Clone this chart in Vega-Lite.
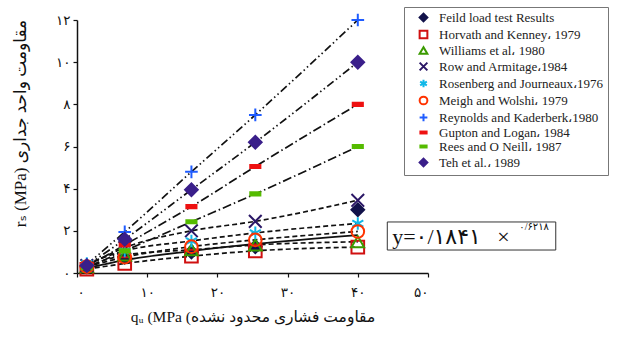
{
  "$schema": "https://vega.github.io/schema/vega-lite/v6.json",
  "width": 351,
  "height": 253,
  "autosize": {"type": "none"},
  "padding": {"left": 77, "top": 20, "right": 191, "bottom": 67},
  "config": {
    "view": {"stroke": null},
    "font": "Liberation Serif",
    "axis": {
      "grid": false,
      "domainColor": "#111",
      "domainWidth": 1.5,
      "tickColor": "#111",
      "tickWidth": 1.2,
      "tickSize": 4,
      "labelColor": "#111",
      "labelFont": "DejaVu Sans",
      "labelFontSize": 13.5,
      "titleColor": "#111",
      "titleFontWeight": "normal"
    },
    "legend": {
      "orient": "none",
      "legendX": 327,
      "legendY": -13,
      "labelFont": "Liberation Serif",
      "labelFontSize": 13,
      "labelColor": "#222",
      "strokeColor": "#777",
      "padding": 4,
      "rowPadding": 0,
      "symbolSize": 60,
      "symbolStrokeWidth": 2,
      "labelLimit": 300
    }
  },
  "data": {
    "values": [
      {"series": "Feild load test Results", "q": 1.4, "rs": 0.3, "fit": 0.23},
      {"series": "Feild load test Results", "q": 6.8, "rs": 0.75, "fit": 0.61},
      {"series": "Feild load test Results", "q": 16.3, "rs": 1.0, "fit": 1.04},
      {"series": "Feild load test Results", "q": 25.4, "rs": 1.25, "fit": 1.38},
      {"series": "Feild load test Results", "q": 40, "rs": 3.0, "fit": 1.8},
      {"series": "Horvath and Kenney، 1979", "q": 1.4, "rs": 0.18, "fit": 0.18},
      {"series": "Horvath and Kenney، 1979", "q": 6.8, "rs": 0.45, "fit": 0.45},
      {"series": "Horvath and Kenney، 1979", "q": 16.3, "rs": 0.8, "fit": 0.8},
      {"series": "Horvath and Kenney، 1979", "q": 25.4, "rs": 1.05, "fit": 1.05},
      {"series": "Horvath and Kenney، 1979", "q": 40, "rs": 1.23, "fit": 1.23},
      {"series": "Williams et al، 1980", "q": 1.4, "rs": 0.3, "fit": 0.3},
      {"series": "Williams et al، 1980", "q": 6.8, "rs": 0.85, "fit": 0.85},
      {"series": "Williams et al، 1980", "q": 16.3, "rs": 1.1, "fit": 1.1},
      {"series": "Williams et al، 1980", "q": 25.4, "rs": 1.33, "fit": 1.33},
      {"series": "Williams et al، 1980", "q": 40, "rs": 1.48, "fit": 1.48},
      {"series": "Row and Armitage،1984", "q": 1.4, "rs": 0.35, "fit": 0.35},
      {"series": "Row and Armitage،1984", "q": 6.8, "rs": 1.2, "fit": 1.2},
      {"series": "Row and Armitage،1984", "q": 16.3, "rs": 2.0, "fit": 2.0},
      {"series": "Row and Armitage،1984", "q": 25.4, "rs": 2.45, "fit": 2.45},
      {"series": "Row and Armitage،1984", "q": 40, "rs": 3.45, "fit": 3.45},
      {"series": "Rosenberg and Journeaux،1976", "q": 1.4, "rs": 0.45, "fit": 0.45},
      {"series": "Rosenberg and Journeaux،1976", "q": 6.8, "rs": 1.05, "fit": 1.05},
      {"series": "Rosenberg and Journeaux،1976", "q": 16.3, "rs": 1.52, "fit": 1.52},
      {"series": "Rosenberg and Journeaux،1976", "q": 25.4, "rs": 1.9, "fit": 1.9},
      {"series": "Rosenberg and Journeaux،1976", "q": 40, "rs": 2.35, "fit": 2.35},
      {"series": "Meigh and Wolshi، 1979", "q": 1.4, "rs": 0.3, "fit": 0.3},
      {"series": "Meigh and Wolshi، 1979", "q": 6.8, "rs": 0.75, "fit": 0.75},
      {"series": "Meigh and Wolshi، 1979", "q": 16.3, "rs": 1.25, "fit": 1.25},
      {"series": "Meigh and Wolshi، 1979", "q": 25.4, "rs": 1.57, "fit": 1.57},
      {"series": "Meigh and Wolshi، 1979", "q": 40, "rs": 1.97, "fit": 1.97},
      {"series": "Reynolds and Kaderberk،1980", "q": 1.4, "rs": 0.4, "fit": 0.4},
      {"series": "Reynolds and Kaderberk،1980", "q": 6.8, "rs": 1.95, "fit": 1.95},
      {"series": "Reynolds and Kaderberk،1980", "q": 16.3, "rs": 4.8, "fit": 4.8},
      {"series": "Reynolds and Kaderberk،1980", "q": 25.4, "rs": 7.5, "fit": 7.5},
      {"series": "Reynolds and Kaderberk،1980", "q": 40, "rs": 12.0, "fit": 12.0},
      {"series": "Gupton and Logan، 1984", "q": 1.4, "rs": 0.3, "fit": 0.3},
      {"series": "Gupton and Logan، 1984", "q": 6.8, "rs": 1.33, "fit": 1.33},
      {"series": "Gupton and Logan، 1984", "q": 16.3, "rs": 3.15, "fit": 3.15},
      {"series": "Gupton and Logan، 1984", "q": 25.4, "rs": 5.05, "fit": 5.05},
      {"series": "Gupton and Logan، 1984", "q": 40, "rs": 8.0, "fit": 8.0},
      {"series": "Rees and O Neill، 1987", "q": 1.4, "rs": 0.25, "fit": 0.25},
      {"series": "Rees and O Neill، 1987", "q": 6.8, "rs": 1.05, "fit": 1.05},
      {"series": "Rees and O Neill، 1987", "q": 16.3, "rs": 2.43, "fit": 2.43},
      {"series": "Rees and O Neill، 1987", "q": 25.4, "rs": 3.75, "fit": 3.75},
      {"series": "Rees and O Neill، 1987", "q": 40, "rs": 6.0, "fit": 6.0},
      {"series": "Teh et al.، 1989", "q": 1.4, "rs": 0.35, "fit": 0.35},
      {"series": "Teh et al.، 1989", "q": 6.8, "rs": 1.6, "fit": 1.6},
      {"series": "Teh et al.، 1989", "q": 16.3, "rs": 3.95, "fit": 3.95},
      {"series": "Teh et al.، 1989", "q": 25.4, "rs": 6.2, "fit": 6.2},
      {"series": "Teh et al.، 1989", "q": 40, "rs": 10.0, "fit": 10.0}
    ]
  },
  "layer": [
    {
      "transform": [{"filter": {"field": "series", "oneOf": ["Feild load test Results"]}}],
      "mark": {"type": "line", "color": "#111", "strokeWidth": 1.7, "interpolate": "monotone"},
      "encoding": {
        "x": {"field": "q", "type": "quantitative", "scale": {"domain": [0, 50], "nice": false},
          "axis": {"values": [0, 10, 20, 30, 40, 50], "labelPadding": 8, "titlePadding": 11, "titleFontSize": 15.5, "titleFont": "Liberation Serif, DejaVu Sans",
            "labelExpr": "replace(replace(replace(replace(replace(replace(toString(datum.value),'0','۰'),'1','۱'),'2','۲'),'3','۳'),'4','۴'),'5','۵')"},
          "title": "qᵤ  (MPa (مقاومت فشاری محدود نشده"},
        "y": {"field": "fit", "type": "quantitative", "scale": {"domain": [0, 12], "nice": false},
          "axis": {"values": [0, 2, 4, 6, 8, 10, 12], "labelPadding": 3, "titleFontSize": 17, "titleFont": "Liberation Serif, DejaVu Sans", "titleX": -57, "titleY": 103, "titleBaseline": "middle", "titleAngle": -90,
            "labelExpr": "replace(replace(replace(replace(replace(replace(replace(toString(datum.value),'0','۰'),'1','۱'),'2','۲'),'4','۴'),'6','۶'),'8','۸'),'3','۳')"},
          "title": "rₛ (MPa) مقاومت واحد جداری"},
        "detail": {"field": "series"}
      }
    },
    {
      "transform": [{"filter": {"field": "series", "oneOf": ["Horvath and Kenney، 1979", "Williams et al، 1980", "Row and Armitage،1984", "Rosenberg and Journeaux،1976", "Meigh and Wolshi، 1979"]}}],
      "mark": {"type": "line", "color": "#111", "strokeWidth": 1.7, "strokeDash": [5, 3], "interpolate": "monotone"},
      "encoding": {
        "x": {"field": "q", "type": "quantitative"},
        "y": {"field": "fit", "type": "quantitative"},
        "detail": {"field": "series"}
      }
    },
    {
      "transform": [{"filter": {"field": "series", "oneOf": ["Gupton and Logan، 1984", "Rees and O Neill، 1987"]}}],
      "mark": {"type": "line", "color": "#111", "strokeWidth": 1.7, "strokeDash": [9, 3, 1.5, 3], "interpolate": "monotone"},
      "encoding": {
        "x": {"field": "q", "type": "quantitative"},
        "y": {"field": "fit", "type": "quantitative"},
        "detail": {"field": "series"}
      }
    },
    {
      "transform": [{"filter": {"field": "series", "oneOf": ["Reynolds and Kaderberk،1980", "Teh et al.، 1989"]}}],
      "mark": {"type": "line", "color": "#111", "strokeWidth": 1.7, "strokeDash": [8, 3, 1.5, 3, 1.5, 3], "interpolate": "monotone"},
      "encoding": {
        "x": {"field": "q", "type": "quantitative"},
        "y": {"field": "fit", "type": "quantitative"},
        "detail": {"field": "series"}
      }
    },
    {
      "mark": {"type": "point", "size": 160, "strokeWidth": 2, "opacity": 1},
      "encoding": {
        "x": {"field": "q", "type": "quantitative"},
        "y": {"field": "rs", "type": "quantitative"},
        "shape": {
          "field": "series", "type": "nominal", "title": null,
          "legend": {"labelFont": "Liberation Serif", "labelFontSize": 13, "symbolOffset": 9, "labelOffset": 9, "padding": 4},
          "scale": {
            "domain": ["Feild load test Results", "Horvath and Kenney، 1979", "Williams et al، 1980", "Row and Armitage،1984", "Rosenberg and Journeaux،1976", "Meigh and Wolshi، 1979", "Reynolds and Kaderberk،1980", "Gupton and Logan، 1984", "Rees and O Neill، 1987", "Teh et al.، 1989"],
            "range": ["diamond", "square", "triangle-up", "M-1,-1L1,1M-1,1L1,-1", "M0,-1L0,1M-0.87,-0.5L0.87,0.5M-0.87,0.5L0.87,-0.5", "circle", "M-1,0L1,0M0,-1L0,1", "M-0.8,-0.25L0.8,-0.25L0.8,0.25L-0.8,0.25Z", "M-0.8,-0.25L0.8,-0.25L0.8,0.25L-0.8,0.25Z", "diamond"]
          }
        },
        "fill": {
          "field": "series", "type": "nominal", "title": null,
          "scale": {
            "domain": ["Feild load test Results", "Horvath and Kenney، 1979", "Williams et al، 1980", "Row and Armitage،1984", "Rosenberg and Journeaux،1976", "Meigh and Wolshi، 1979", "Reynolds and Kaderberk،1980", "Gupton and Logan، 1984", "Rees and O Neill، 1987", "Teh et al.، 1989"],
            "range": ["#12124a", "transparent", "transparent", "transparent", "transparent", "transparent", "transparent", "#ee1111", "#55bb00", "#3a1f8a"]
          }
        },
        "stroke": {
          "field": "series", "type": "nominal", "title": null,
          "scale": {
            "domain": ["Feild load test Results", "Horvath and Kenney، 1979", "Williams et al، 1980", "Row and Armitage،1984", "Rosenberg and Journeaux،1976", "Meigh and Wolshi، 1979", "Reynolds and Kaderberk،1980", "Gupton and Logan، 1984", "Rees and O Neill، 1987", "Teh et al.، 1989"],
            "range": ["#12124a", "#d01010", "#3a9a00", "#2b1766", "#10b8e8", "#ff3300", "#1f5cff", "#ee1111", "#55bb00", "#3a1f8a"]
          }
        }
      }
    },
    {
      "data": {"values": [{"x1": 44.2, "x2": 68.2, "y1": 2.42, "y2": 1.09}]},
      "mark": {"type": "rect", "fill": "white", "stroke": "#333", "strokeWidth": 1},
      "encoding": {
        "x": {"field": "x1", "type": "quantitative"},
        "x2": {"field": "x2"},
        "y": {"field": "y1", "type": "quantitative"},
        "y2": {"field": "y2"}
      }
    },
    {
      "data": {"values": [
        {"tx": 44.9, "ty": 1.72, "label": "y=۰/۱۸۴۱\u00a0\u00a0\u00a0×", "kind": "main"},
        {"tx": 63.0, "ty": 2.18, "label": "۰/۶۲۱۸", "kind": "sup"}
      ]},
      "mark": {"type": "text", "align": "left", "baseline": "middle", "font": "Liberation Serif, DejaVu Sans", "color": "#111"},
      "encoding": {
        "x": {"field": "tx", "type": "quantitative"},
        "y": {"field": "ty", "type": "quantitative"},
        "text": {"field": "label"},
        "size": {"field": "kind", "type": "nominal", "scale": {"domain": ["main", "sup"], "range": [22, 10]}, "legend": null}
      }
    }
  ]
}
